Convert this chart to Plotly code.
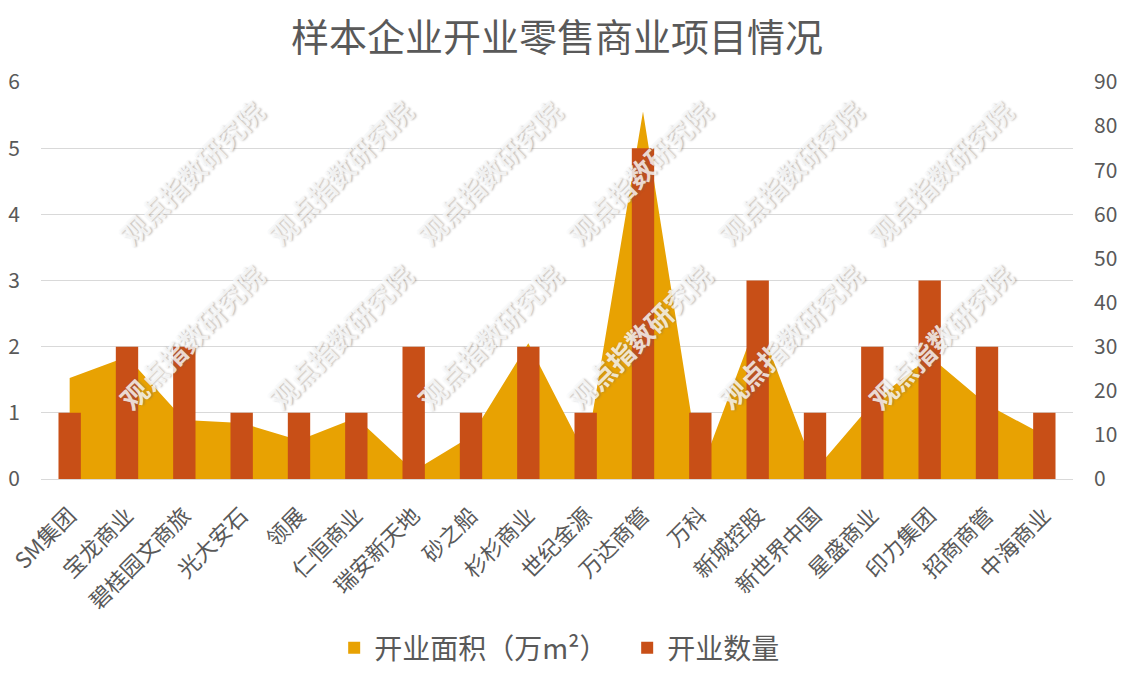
import plotly.graph_objects as go

categories = ["SM集团", "宝龙商业", "碧桂园文商旅", "光大安石", "领展", "仁恒商业", "瑞安新天地",
              "砂之船", "杉杉商业", "世纪金源", "万达商管", "万科", "新城控股", "新世界中国",
              "星盛商业", "印力集团", "招商商管", "中海商业"]
area_values = [22.9, 27.7, 13.4, 12.7, 8.8, 13.9, 1.8, 9.7, 30.8, 5.4, 83.3, 1.5, 36.2, 2.0,
               17.2, 27.8, 16.9, 9.9]
count_values = [1, 2, 2, 1, 1, 1, 2, 1, 2, 1, 5, 1, 3, 1, 2, 3, 2, 1]

left_ticks = [0, 1, 2, 3, 4, 5, 6]
right_ticks = [0, 10, 20, 30, 40, 50, 60, 70, 80, 90]

title_text = "样本企业开业零售商业项目情况"
area_name = "开业面积（万m²）"
count_name = "开业数量"
watermark = "观点指数研究院"

FONT = "Noto Sans CJK SC"
GREY = "#595959"
AREA_COLOR = "#E8A202"
BAR_COLOR = "#C84F17"

fig = go.Figure()
# area series (drawn on the base y axis, underneath the bars)
fig.add_trace(go.Scatter(
    x=categories, y=area_values, name=area_name, mode="none", legendgroup="area",
    fill="tozeroy", fillcolor=AREA_COLOR, yaxis="y", showlegend=False, hoverinfo="x+y"))
# legend swatch for the area series (square, as in the reference)
fig.add_trace(go.Bar(
    x=categories, y=[None] * len(categories), name=area_name, legendgroup="area",
    marker=dict(color=AREA_COLOR, line=dict(width=0)), yaxis="y2", hoverinfo="skip"))
fig.add_trace(go.Bar(
    x=categories, y=count_values, name=count_name,
    marker=dict(color=BAR_COLOR, line=dict(width=0)), yaxis="y2"))

annotations = []
wm_x = [0.146, 0.290, 0.435, 0.580, 0.726, 0.872]
wm_y = [0.771, 0.358]
for yy in wm_y:
    for xx in wm_x:
        annotations.append(dict(
            text=watermark, x=xx, y=yy, xref="paper", yref="paper",
            xanchor="center", yanchor="middle",
            showarrow=False, textangle=-45,
            font=dict(family=FONT, size=27, color="rgba(255,255,255,0.8)", weight="bold",
                      shadow="1px 1px 2px rgba(100,100,100,0.55)")))

fig.update_layout(
    width=1127, height=676,
    paper_bgcolor="white", plot_bgcolor="white",
    margin=dict(l=41, r=54, t=82, b=197, autoexpand=False),
    title=dict(text=title_text, x=0.5, xanchor="center", xref="paper",
               y=1 - 38 / 676, yref="container", yanchor="middle",
               font=dict(family=FONT, size=38, color=GREY)),
    font=dict(family=FONT, color=GREY),
    barmode="overlay",
    bargap=0.61,
    showlegend=True,
    legend=dict(orientation="h", x=0.568, xanchor="center", y=-0.426, yanchor="middle",
                font=dict(family=FONT, size=28, color=GREY), itemwidth=30,
                entrywidth=248, entrywidthmode="pixels",
                traceorder="normal"),
    xaxis=dict(type="category", showgrid=False, tickangle=-45, ticks="",
               automargin=False, ticklabelstandoff=14,
               tickfont=dict(family=FONT, size=22, color=GREY),
               showline=True, linecolor="#D9D9D9", linewidth=1, zeroline=False),
    yaxis=dict(side="right", range=[0, 90], tickvals=right_ticks, showgrid=False,
               zeroline=False, ticks="", ticklabelstandoff=20, automargin=False,
               tickfont=dict(family=FONT, size=21, color=GREY)),
    yaxis2=dict(side="left", overlaying="y", range=[0, 6], tickvals=left_ticks,
                showgrid=True, gridcolor="#D9D9D9", gridwidth=1, zeroline=False,
                ticks="", ticklabelstandoff=20, automargin=False,
                tickfont=dict(family=FONT, size=21, color=GREY)),
    annotations=annotations,
)

fig.write_html("out.html", config={"displayModeBar": False},
               post_script="document.body.style.margin='0';document.body.style.overflow='hidden';")
